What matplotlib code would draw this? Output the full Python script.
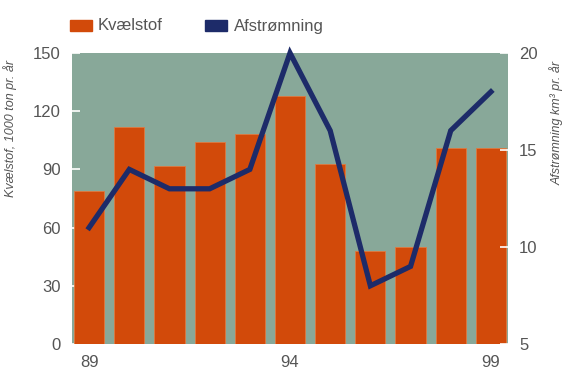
import matplotlib.pyplot as plt
import numpy as np

# nitrogen load (1000 t/yr) and runoff (km3/yr), 1989-1999
years = ["89", "90", "91", "92", "93", "94", "95", "96", "97", "98", "99"]
kvaelstof = [79, 112, 92, 104, 108, 128, 93, 48, 50, 101, 101]
afstroemning = [11, 14, 13, 13, 14, 20, 16, 8, 9, 16, 18]
tick_years = ["89", "94", "99"]

bg = "#88a899"
bar_col = "#d24a0a"
line_col = "#1d2b69"
txt = "#555555"

plt.rcParams['font.family'] = ['Liberation Sans Narrow', 'Liberation Sans', 'DejaVu Sans']

fig = plt.figure(figsize=(5.64, 3.72), dpi=100)
ax = fig.add_axes([0.1277, 0.0753, 0.773, 0.7822])
ax.set_facecolor(bg)

x = np.arange(len(years))
ax.bar(x, kvaelstof, width=0.75, color=bar_col, edgecolor="#e07a40", linewidth=0.6, zorder=2)
ax.set_xlim(-0.425, len(years) - 1 + 0.425)
ax.set_ylim(0, 150)
ax.set_yticks([0, 30, 60, 90, 120, 150])
ax.tick_params(axis='y', direction='in', length=6, width=1.2, color='white',
               labelcolor=txt, labelsize=12, pad=8)
idx = [years.index(t) for t in tick_years]
ax.set_xticks(idx)
ax.set_xticklabels(tick_years)
ax.tick_params(axis='x', length=0, labelcolor=txt, labelsize=12, pad=8)
for s in ax.spines.values():
    s.set_visible(False)
ax.set_ylabel("Kvælstof, 1000 ton pr. år", style='italic', color=txt, fontsize=9)
ax.yaxis.set_label_coords(-0.126, 0.74)

ax2 = ax.twinx()
ax2.plot(x, afstroemning, color=line_col, linewidth=3.8, solid_joinstyle='miter',
         zorder=3, clip_on=False)
ax2.set_ylim(5, 20)
ax2.set_yticks([5, 10, 15, 20])
ax2.tick_params(axis='y', direction='in', length=6, width=1.2, color='white',
                labelcolor=txt, labelsize=12, pad=8)
for s in ax2.spines.values():
    s.set_visible(False)
ax2.set_ylabel("Afstrømning km³ pr. år", style='italic', color=txt, fontsize=9,
               rotation=90)
ax2.yaxis.set_label_coords(1.096, 0.76)

# legend above the plot
fig.patches.append(plt.Rectangle((70 / 564, 1 - 31 / 372), 22 / 564, 11 / 372,
                                 transform=fig.transFigure, color=bar_col))
fig.text(98 / 564, 1 - 26 / 372, "Kvælstof", color=txt, fontsize=12, va='center')
fig.patches.append(plt.Rectangle((205 / 564, 1 - 31 / 372), 22 / 564, 11 / 372,
                                 transform=fig.transFigure, color=line_col))
fig.text(234 / 564, 1 - 26 / 372, "Afstrømning", color=txt, fontsize=12, va='center')

fig.savefig("out.png", dpi=100, facecolor='white')
